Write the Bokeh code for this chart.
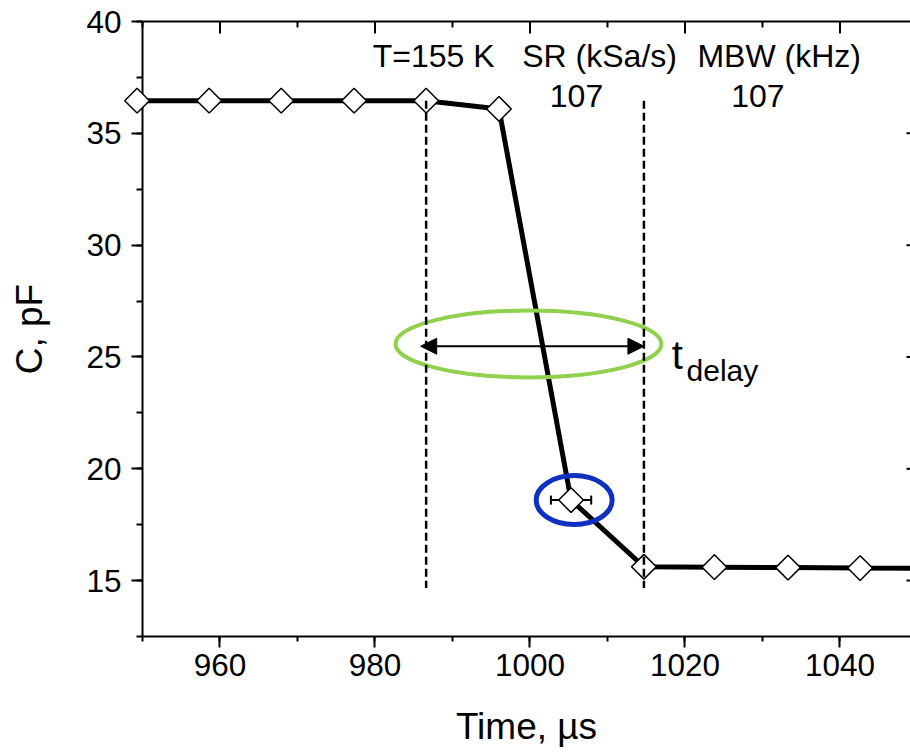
import numpy as np
from bokeh.plotting import figure
from bokeh.models import (Range1d, LinearAxis, SingleIntervalTicker, FixedTicker, Whisker, TeeHead,
                          Arrow, NormalHead, ColumnDataSource)
from bokeh.core.properties import value
from bokeh.embed import file_html
from bokeh.resources import INLINE

# ---- data ----
time_us = [949.3, 958.6, 967.9, 977.3, 986.6, 996.0, 1005.3, 1014.7, 1023.8, 1033.3, 1042.6, 1051.9]
cap_pF = [36.46, 36.46, 36.46, 36.46, 36.46, 36.09, 18.6, 15.62, 15.6, 15.58, 15.56, 15.55]
err_point_x = [1005.3]
err_point_y = [18.6]
err_half = [2.6]
cursor_x = [986.6, 1014.7]
cursor_top = [36.46, 36.46]
cursor_bottom = [14.67, 14.67]
delay_y = 25.48
info_texts = ["T=155 K", "SR (kSa/s)", "MBW (kHz)", "107", "107"]
info_x = [979.7, 999.0, 1021.6, 1006.0, 1029.4]
info_y = [38.47, 38.47, 38.47, 36.68, 36.68]
info_align = ["left", "left", "left", "center", "center"]
top_major_ticks = [960, 980, 1000, 1020, 1040]
top_minor_ticks = [950, 970, 990, 1010, 1030]
right_major_ticks = [15, 20, 25, 30, 35]

FONT = "Liberation Sans"
X_MIN, X_MAX, Y_MIN, Y_MAX = 950, 1049.1, 12.5, 40
RIGHT_AXIS_X = 1050
FRAME_H = 753 - 21 - 117
PX_PER_Y = FRAME_H / (Y_MAX - Y_MIN)

p = figure(width=910, height=753, output_backend="svg", toolbar_location=None,
           x_range=Range1d(X_MIN, X_MAX), y_range=Range1d(Y_MIN, Y_MAX),
           min_border_left=142, min_border_right=0, min_border_top=21, min_border_bottom=117,
           background_fill_color="white", border_fill_color="white")
p.outline_line_color = None
p.grid.visible = False

p.xaxis.ticker = SingleIntervalTicker(interval=20, num_minor_ticks=2)
p.yaxis.ticker = SingleIntervalTicker(interval=5, num_minor_ticks=2)

for ax in (p.xaxis[0], p.yaxis[0]):
    ax.axis_line_width = 2
    ax.major_tick_line_width = 2
    ax.minor_tick_line_width = 2
    ax.major_label_text_font = FONT
    ax.major_label_text_font_size = "31.5px"
    ax.major_label_text_color = "black"
    ax.axis_label_text_font = FONT
    ax.axis_label_text_font_size = "37px"
    ax.axis_label_text_font_style = "normal"
    ax.axis_label_text_color = "black"
    ax.major_tick_in = 0
    ax.minor_tick_in = 0

p.xaxis.major_tick_out = 11
p.xaxis.minor_tick_out = 5
p.xaxis.major_label_standoff = 6
p.xaxis.axis_label = "Time, µs"
p.xaxis.axis_label_standoff = 27

p.yaxis.major_tick_out = 11
p.yaxis.minor_tick_out = 6
p.yaxis.major_label_standoff = 10
p.yaxis.axis_label = "C, pF"
p.yaxis.axis_label_standoff = 33

# top frame line
top = LinearAxis(ticker=FixedTicker(ticks=[]), major_label_text_font_size="0px",
                 major_label_standoff=0, major_tick_in=0, major_tick_out=0,
                 minor_tick_in=0, minor_tick_out=0, axis_line_width=2)
p.add_layout(top, "above")

# inward ticks on the top edge
tk1 = p.segment(x0=top_major_ticks, y0=[Y_MAX] * 5, x1=top_major_ticks,
                y1=[Y_MAX - 12 / PX_PER_Y] * 5, line_color="black", line_width=2)
tk2 = p.segment(x0=top_minor_ticks, y0=[Y_MAX] * 5, x1=top_minor_ticks,
                y1=[Y_MAX - 6 / PX_PER_Y] * 5, line_color="black", line_width=2)
tk1.level = "overlay"
tk2.level = "overlay"
# right axis lies just outside the window: only the inner ends of its ticks show
p.scatter(x=[RIGHT_AXIS_X] * len(right_major_ticks), y=right_major_ticks, marker="dash",
          size=22, line_color="black", line_width=2)

# main line
src = ColumnDataSource(dict(x=time_us, y=cap_pF))
p.line("x", "y", source=src, line_color="black", line_width=5)

# error bar on the transition point
esrc = ColumnDataSource(dict(base=err_point_y,
                             lower=[x - e for x, e in zip(err_point_x, err_half)],
                             upper=[x + e for x, e in zip(err_point_x, err_half)]))
wh = Whisker(source=esrc, base="base", lower="lower", upper="upper", dimension="width",
             line_color="black", line_width=2,
             lower_head=TeeHead(size=9, line_width=2, line_color="black"),
             upper_head=TeeHead(size=9, line_width=2, line_color="black"))
p.add_layout(wh)

# markers (not clipped)
mk = p.scatter("x", "y", source=src, marker="square", angle=np.pi / 4, size=17.5,
               fill_color="white", line_color="black", line_width=1.5)
mk.level = "overlay"

# dashed cursor lines
cs = p.segment(x0=cursor_x, y0=cursor_top, x1=cursor_x, y1=cursor_bottom,
               line_color="black", line_width=2.5, line_dash="8 4")
cs.level = "overlay"

# delay arrow
p.add_layout(Arrow(x_start=cursor_x[0] - 0.7, y_start=delay_y, x_end=cursor_x[1], y_end=delay_y,
                   line_color="black", line_width=2,
                   start=NormalHead(size=16, fill_color="black", line_color="black"),
                   end=NormalHead(size=16, fill_color="black", line_color="black")))

# highlight ellipses
p.ellipse(x=[999.8], y=[25.58], width=34.3, height=2.99, fill_color=None,
          line_color="#92D050", line_width=4)
p.ellipse(x=[1005.7], y=[18.6], width=9.8, height=2.19, fill_color=None,
          line_color="#1030C0", line_width=5)

# info texts
tsrc = ColumnDataSource(dict(x=info_x, y=info_y, t=info_texts, a=info_align))
p.text("x", "y", text="t", source=tsrc, text_align="a", text_baseline="alphabetic",
       text_font=value(FONT), text_font_size=value("32px"), text_color="black")

# t_delay label
p.text(x=[1018.3], y=[25.08], text=["t"], text_align="left", text_baseline="alphabetic",
       text_font=value(FONT), text_font_size=value("40px"), text_color="black")
p.text(x=[1020.2], y=[24.41], text=["delay"], text_align="left", text_baseline="alphabetic",
       text_font=value(FONT), text_font_size=value("30px"), text_color="black")

open("out.html", "w").write(file_html(p, INLINE))
